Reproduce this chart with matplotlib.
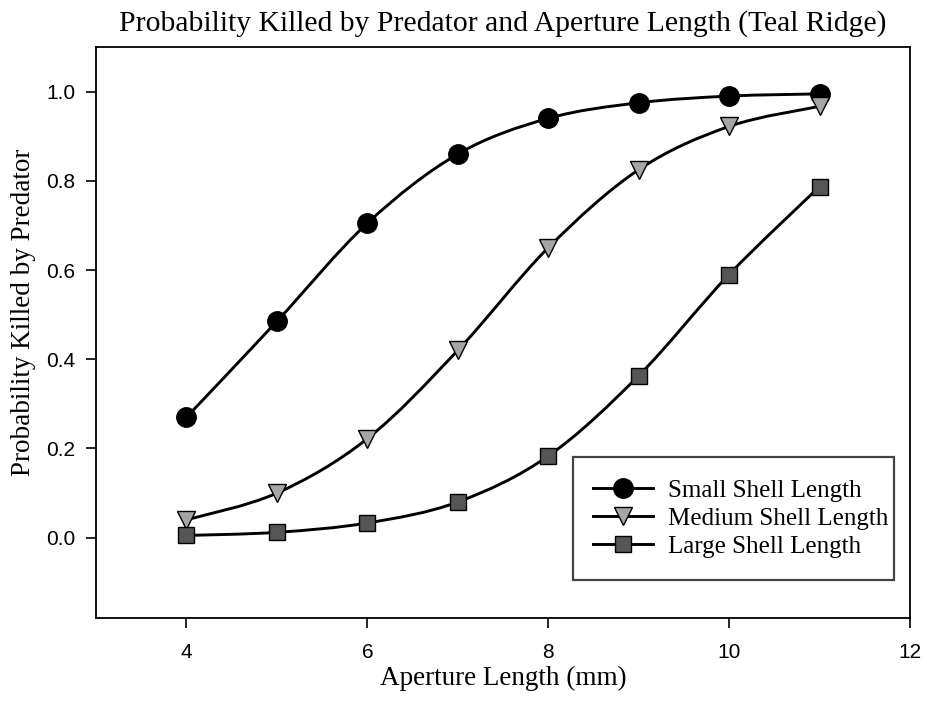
import matplotlib
matplotlib.use("Agg")
import matplotlib.pyplot as plt
import numpy as np
from matplotlib.path import Path
from matplotlib.patches import PathPatch, Rectangle
from matplotlib.lines import Line2D

aperture = [4, 5, 6, 7, 8, 9, 10, 11]
small = [0.27, 0.485, 0.705, 0.86, 0.94, 0.975, 0.99, 0.995]
medium = [0.04, 0.10, 0.222, 0.42, 0.65, 0.825, 0.922, 0.967]
large = [0.005, 0.012, 0.033, 0.08, 0.183, 0.363, 0.59, 0.787]

labels = ['Small Shell Length', 'Medium Shell Length', 'Large Shell Length']
markers = ['o', 'v', 's']
fills = ['black', '#a6a6a6', '#555555']
sizes = [14, 13, 11]

serif = ['Liberation Serif', 'DejaVu Serif']
sans = ['Liberation Sans', 'DejaVu Sans']


def smooth_path(x, y):
    # catmull-rom through the points, drawn as cubic bezier segments
    x = np.asarray(x, float)
    y = np.asarray(y, float)
    pts = np.column_stack([x, y])
    verts = [pts[0]]
    codes = [Path.MOVETO]
    n = len(pts)
    for i in range(n - 1):
        p0 = pts[i - 1] if i > 0 else pts[i]
        p1 = pts[i]
        p2 = pts[i + 1]
        p3 = pts[i + 2] if i + 2 < n else pts[i + 1]
        c1 = p1 + (p2 - p0) / 6.0
        c2 = p2 - (p3 - p1) / 6.0
        verts += [c1, c2, p2]
        codes += [Path.CURVE4] * 3
    return Path(verts, codes)


fig = plt.figure(figsize=(9.27, 7.02), dpi=100)
ax = fig.add_axes([0.1036, 0.1197, 0.878, 0.8133])

for ys, m, fc, ms, lab in zip([small, medium, large], markers, fills, sizes, labels):
    ax.add_patch(PathPatch(smooth_path(aperture, ys), facecolor='none',
                           edgecolor='black', lw=2.1, zorder=2))
    ax.plot(aperture, ys, linestyle='none', marker=m, markersize=ms,
            markerfacecolor=fc, markeredgecolor='black', markeredgewidth=1,
            zorder=3)

ax.set_xlim(3, 12)
ax.set_ylim(-0.18, 1.1)
ax.set_xticks([4, 6, 8, 10, 12])
ax.set_yticks([0.0, 0.2, 0.4, 0.6, 0.8, 1.0])
ax.set_yticklabels(['0.0', '0.2', '0.4', '0.6', '0.8', '1.0'])
ax.tick_params(direction='out', length=7, width=1.2, labelsize=15, pad=8)
ax.tick_params(axis='x', pad=11)
for t in ax.get_xticklabels() + ax.get_yticklabels():
    t.set_family(sans)
for s in ax.spines.values():
    s.set_linewidth(1.3)

ax.set_title('Probability Killed by Predator and Aperture Length (Teal Ridge)',
             family=serif, fontsize=21.3, pad=12)
ax.set_xlabel('Aperture Length (mm)', family=serif, fontsize=19.5, labelpad=3)
ax.set_ylabel('Probability Killed by Predator', family=serif, fontsize=19.5)
ax.yaxis.set_label_coords(-0.074, 0.535)

# legend box drawn separately so the padding can differ top/side
ax.add_patch(Rectangle((0.586, 0.0665), 0.394, 0.2155, transform=ax.transAxes,
                       facecolor='white', edgecolor='#444444', lw=1.6, zorder=4))
handles = [Line2D([0], [0], color='black', lw=2.1, marker=m, markersize=ms,
                  markerfacecolor=fc, markeredgecolor='black')
           for m, fc, ms in zip(markers, fills, sizes)]
leg = ax.legend(handles, labels, loc='center', bbox_to_anchor=(0.792, 0.174),
                prop={'family': serif, 'size': 18}, frameon=False,
                handlelength=2.4, handletextpad=0.6, labelspacing=0.23,
                borderpad=0, borderaxespad=0)
leg.set_zorder(5)

fig.savefig('out.png', dpi=100)
